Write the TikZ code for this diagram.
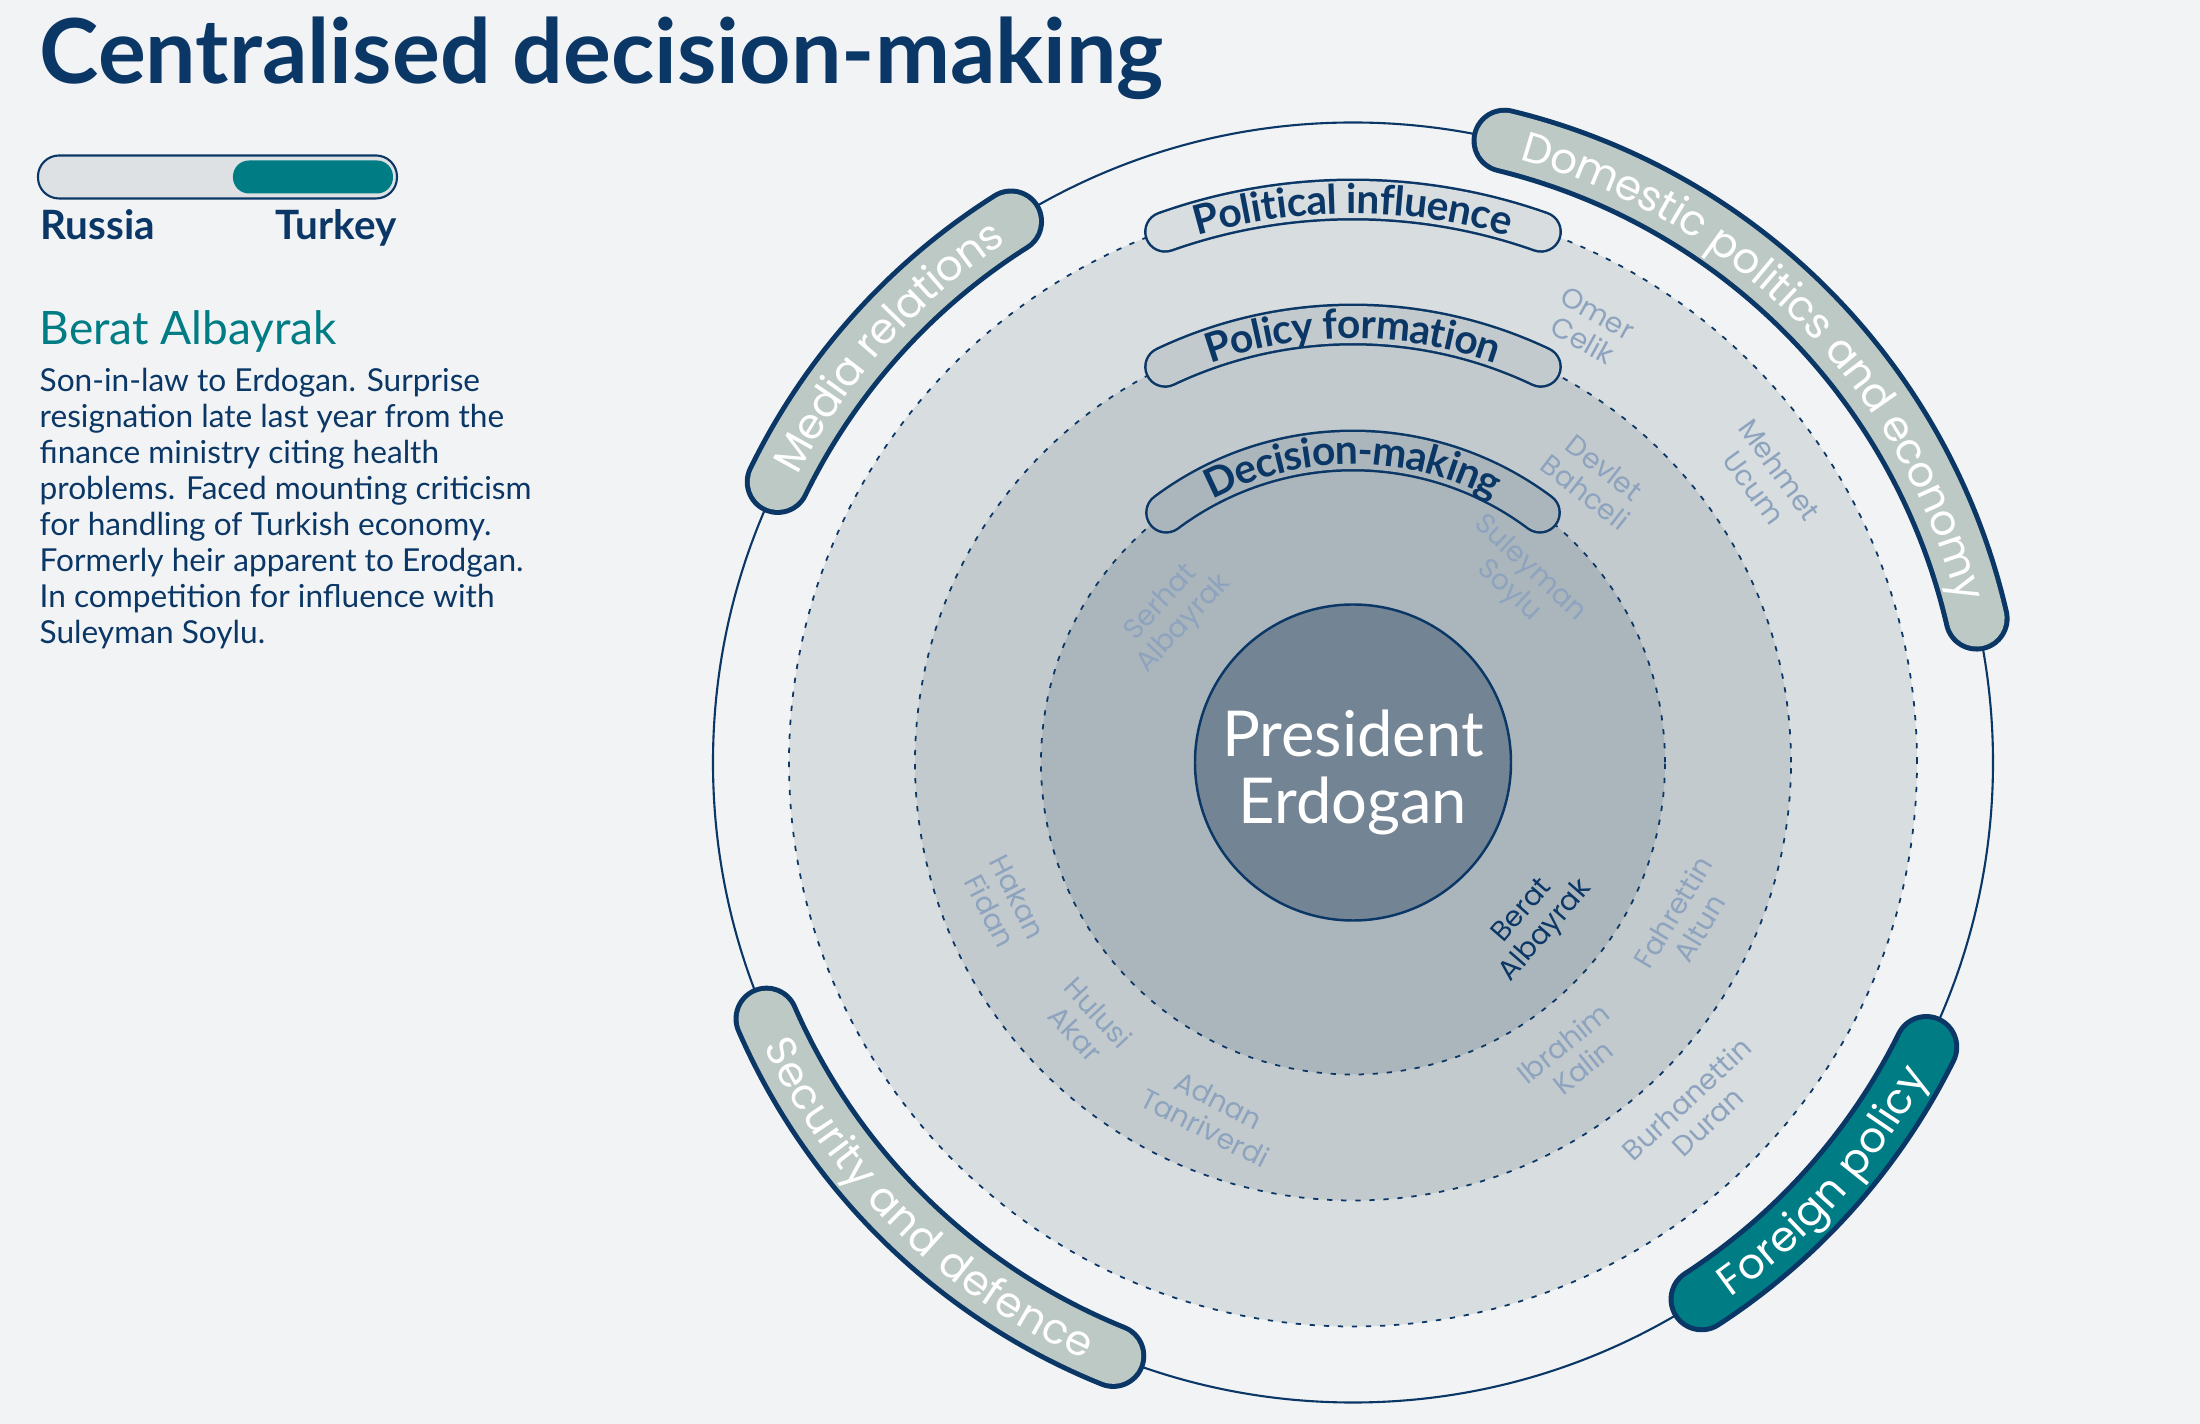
\documentclass[tikz,border=0pt]{standalone}
\usepackage{fontspec}
\setmainfont{Lato}
\newfontfamily\bandfont{Poppins}
\usetikzlibrary{decorations.text}
\definecolor{navy}{HTML}{0B3766}
\definecolor{deepteal}{HTML}{007C85}
\definecolor{bg}{HTML}{F2F3F5}
\definecolor{ringout}{HTML}{D8DDE0}
\definecolor{ringmid}{HTML}{C2CACE}
\definecolor{ringin}{HTML}{ABB6BC}
\definecolor{core}{HTML}{738494}
\definecolor{bandgrey}{HTML}{BDC9C5}
\definecolor{namegrey}{HTML}{8DA3BE}
\definecolor{track}{HTML}{DDE1E4}

\begin{document}
\begin{tikzpicture}[
      ringline/.style={draw=navy, line width=0.5pt, dash pattern=on 1.5pt off 2.5pt},
      bandedge/.style={draw=navy, line width=0.66cm, line cap=round},
      bandfill/.style={draw=#1, line width=0.56cm, line cap=round},
      bandtext/.style={decorate, decoration={text along path, text align=center, raise=-4.2pt,
                   text={|\color{white}\bandfont\fontsize{12}{14}\selectfont|#1}}},
      pilledge/.style={draw=navy, line width=0.42cm, line cap=round},
      pillfill/.style={draw=#1, line width=0.37cm, line cap=round},
      pilltext/.style={decorate, decoration={text along path, text align=center, raise=-4pt,
                   text={|\color{navy}\bfseries\fontsize{11.6}{13}\selectfont|#1}}},
      person/.style={font=\bandfont\fontsize{8}{8.8}\selectfont, text=namegrey,
                   align=center, inner sep=0pt},
      side/.style={anchor=base west, inner sep=0pt, text=navy}
    ]
    \useasboundingbox (-13.53,-6.615) rectangle (8.47,7.625);
    \fill[bg] (-13.53,-6.615) rectangle (8.47,7.625);

    % rings
    \draw[navy, line width=0.6pt] (0,0) circle[radius=6.40];
    \fill[ringout] (0,0) circle[radius=5.64];
    \draw[ringline] (0,0) circle[radius=5.64];
    \fill[ringmid] (0,0) circle[radius=4.38];
    \draw[ringline] (0,0) circle[radius=4.38];
    \fill[ringin] (0,0) circle[radius=3.12];
    \draw[ringline] (0,0) circle[radius=3.12];
    \node[circle, fill=core, draw=navy, line width=0.7pt, minimum size=3.16cm, inner sep=0pt] (pres) at (0,0) {};
    \node[text=white, align=center, font=\fontsize{18}{19}\selectfont, inner sep=0pt] (prestext) at (0,-0.1) {President\\Erdogan};

    % level labels
    \draw[pilledge] (109.5:5.63) arc[start angle=109.5, end angle=70.5, radius=5.63];
    \draw[pillfill=ringout] (109.5:5.63) arc[start angle=109.5, end angle=70.5, radius=5.63];
    \path[pilltext={Political influence}] (109.5:5.63) arc[start angle=109.5, end angle=70.5, radius=5.63];
    \draw[pilledge] (115.4:4.38) arc[start angle=115.4, end angle=64.6, radius=4.38];
    \draw[pillfill=ringmid] (115.4:4.38) arc[start angle=115.4, end angle=64.6, radius=4.38];
    \path[pilltext={Policy formation}] (115.4:4.38) arc[start angle=115.4, end angle=64.6, radius=4.38];
    \draw[pilledge] (126.8:3.12) arc[start angle=126.8, end angle=53.2, radius=3.12];
    \draw[pillfill=ringin] (126.8:3.12) arc[start angle=126.8, end angle=53.2, radius=3.12];
    \path[pilltext={Decision-making}] (126.8:3.12) arc[start angle=126.8, end angle=53.2, radius=3.12];

    % portfolio bands
    \draw[bandedge] (76.3:6.4) arc[start angle=76.3, end angle=13, radius=6.4];
    \draw[bandfill=bandgrey] (76.3:6.4) arc[start angle=76.3, end angle=13, radius=6.4];
    \path[bandtext={Domestic politics and economy}] (76.3:6.4) arc[start angle=76.3, end angle=13, radius=6.4];
    \draw[bandedge] (154:6.4) arc[start angle=154, end angle=122.3, radius=6.4];
    \draw[bandfill=bandgrey] (154:6.4) arc[start angle=154, end angle=122.3, radius=6.4];
    \path[bandtext={Media relations}] (154:6.4) arc[start angle=154, end angle=122.3, radius=6.4];
    \draw[bandedge] (203.6:6.4) arc[start angle=203.6, end angle=248, radius=6.4];
    \draw[bandfill=bandgrey] (203.6:6.4) arc[start angle=203.6, end angle=248, radius=6.4];
    \path[bandtext={Security and defence}] (203.6:6.4) arc[start angle=203.6, end angle=248, radius=6.4];
    \draw[bandedge] (-57:6.4) arc[start angle=-57, end angle=-26.4, radius=6.4];
    \draw[bandfill=deepteal] (-57:6.4) arc[start angle=-57, end angle=-26.4, radius=6.4];
    \path[bandtext={Foreign policy}] (-57:6.4) arc[start angle=-57, end angle=-26.4, radius=6.4];

    % people
    \node[person, rotate=-29] (celik)    at (2.37,4.355)   {Omer\\Celik};
    \node[person, rotate=-38] (bahceli)  at (2.42,2.825)   {Devlet\\Bahceli};
    \node[person, rotate=-54] (ucum)     at (4.14,2.84)    {Mehmet\\Ucum};
    \node[person, rotate=-43] (soylu)    at (1.66,1.825)   {Suleyman\\Soylu};
    \node[person, rotate=47]  (serhat)   at (-1.80,1.49)   {Serhat\\Albayrak};
    \node[person, rotate=49, text=navy] (berat) at (1.82,-1.59) {Berat\\Albayrak};
    \node[person, rotate=59]  (altun)    at (3.33,-1.575)  {Fahrettin\\Altun};
    \node[person, rotate=-63] (fidan)    at (-3.49,-1.415) {Hakan\\Fidan};
    \node[person, rotate=-47] (akar)     at (-2.655,-2.605){Hulusi\\Akar};
    \node[person, rotate=-27] (tanriverdi) at (-1.41,-3.515) {Adnan\\Tanriverdi};
    \node[person, rotate=39]  (kalin)    at (2.20,-2.925)  {Ibrahim\\Kalin};
    \node[person, rotate=43]  (duran)    at (3.44,-3.475)  {Burhanettin\\Duran};

    % left panel
    \node[side, font=\bfseries\fontsize{25.5}{30}\selectfont] (title) at (-13.14,6.785) {Centralised decision-making};
    \draw[fill=track, draw=navy, line width=0.6pt, rounded corners=0.21cm] (-13.15,5.64) rectangle (-9.56,6.07);
    \fill[deepteal, rounded corners=0.16cm] (-11.20,5.69) rectangle (-9.60,6.02);
    \node[side, font=\bfseries\fontsize{11.5}{13}\selectfont] (russia) at (-13.13,5.225) {Russia};
    \node[side, anchor=base east, font=\bfseries\fontsize{11.5}{13}\selectfont] (turkey) at (-9.56,5.225) {Turkey};
    \node[side, text=deepteal, font=\fontsize{13.1}{15}\selectfont] (who) at (-13.14,4.18) {Berat Albayrak};
    \foreach \ln [count=\i] in {Son-in-law to Erdogan. Surprise, resignation late last year from the,
        finance ministry citing health, problems. Faced mounting criticism,
        for handling of Turkish economy., Formerly heir apparent to Erodgan.,
        In competition for influence with, Suleyman Soylu.}
      \node[side, font=\fontsize{9}{10}\selectfont] (bio\i) at (-13.14,3.705-0.359*\i+0.359) {\ln};
  \end{tikzpicture}
\end{document}
